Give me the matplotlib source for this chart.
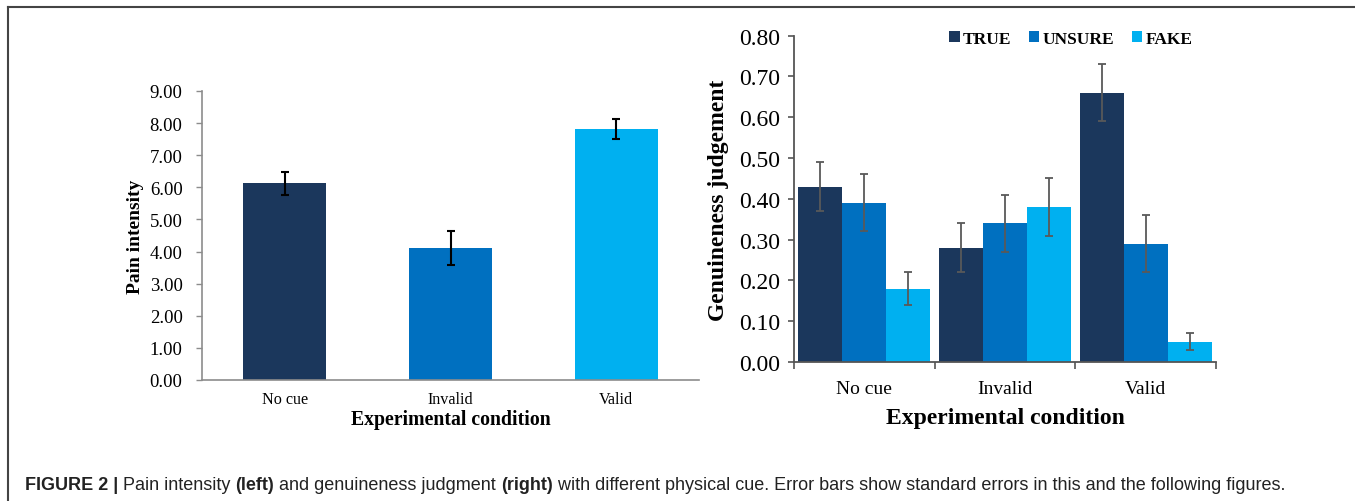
import matplotlib
matplotlib.use('Agg')
import matplotlib.pyplot as plt
from matplotlib.lines import Line2D
from matplotlib.patches import Patch
import numpy as np

conditions = ['No cue', 'Invalid', 'Valid']

# left panel: pain intensity
pain_mean = [6.12, 4.11, 7.81]
pain_se = [0.36, 0.52, 0.32]

# right panel: genuineness judgement
judgements = ['TRUE', 'UNSURE', 'FAKE']
judge_mean = {
    'TRUE': [0.43, 0.28, 0.66],
    'UNSURE': [0.39, 0.34, 0.29],
    'FAKE': [0.18, 0.38, 0.05],
}
judge_se = {
    'TRUE': [0.06, 0.06, 0.07],
    'UNSURE': [0.07, 0.07, 0.07],
    'FAKE': [0.04, 0.07, 0.02],
}

colors = ['#1b375c', '#0070c0', '#00b0f0']
serif = 'Liberation Serif'
spine_col = '#8c8c8c'

W, H = 1355, 502
fig = plt.figure(figsize=(W / 100, H / 100), dpi=100)

# ---- left panel
ax1 = fig.add_axes([202 / W, 1 - 381 / H, 497 / W, 289 / H])
x = np.arange(len(conditions))
ax1.bar(x, pain_mean, width=0.5, color=colors, zorder=2)
ax1.errorbar(x, pain_mean, yerr=pain_se, fmt='none', ecolor='black', elinewidth=1.5,
             capsize=3, capthick=1.5, zorder=3)
ax1.set_xlim(-0.5, 2.5)
ax1.set_ylim(0, 9)
yt1 = np.arange(0, 9.5, 1)
ax1.set_yticks(yt1)
ax1.set_yticklabels([f'{v:.2f}' for v in yt1], family=serif, fontsize=13.5)
ax1.set_xticks(x)
ax1.set_xticklabels(conditions, family=serif, fontsize=11.6)
ax1.tick_params(axis='x', length=0, pad=8)
ax1.tick_params(axis='y', length=4, width=1, color=spine_col, pad=10)
for s in ['top', 'right']:
    ax1.spines[s].set_visible(False)
for s in ['left', 'bottom']:
    ax1.spines[s].set_color(spine_col)
    ax1.spines[s].set_linewidth(1.2)
ax1.set_ylabel('Pain intensity', family=serif, fontsize=14, fontweight='bold', va='center')
ax1.yaxis.set_label_coords((136 - 202) / 497, 0.5)
ax1.set_xlabel('Experimental condition', family=serif, fontsize=14.2, fontweight='bold', va='center')
ax1.xaxis.set_label_coords(0.5, (381 - 420) / 289)

# ---- right panel
ax2 = fig.add_axes([794 / W, 1 - 363 / H, 422 / W, 326.3 / H])
w = 0.313
for i, j in enumerate(judgements):
    pos = x + (i - 1) * w
    ax2.bar(pos, judge_mean[j], width=w, color=colors[i], label=j, zorder=2)
    ax2.errorbar(pos, judge_mean[j], yerr=judge_se[j], fmt='none', ecolor='#595959',
                 elinewidth=1.3, capsize=3, capthick=1.3, zorder=3)
ax2.set_xlim(-0.5, 2.5)
ax2.set_ylim(0, 0.8)
yt2 = np.arange(0, 0.81, 0.1)
ax2.set_yticks(yt2)
ax2.set_yticklabels([f'{v:.2f}' for v in yt2], family=serif, fontsize=17)
ax2.set_xticks(x)
ax2.set_xticklabels(conditions, family=serif, fontsize=14)
ax2.set_xticks([-0.5, 0.5, 1.5, 2.5], minor=True)
ax2.tick_params(axis='x', which='major', length=0, pad=13)
ax2.tick_params(axis='x', which='minor', length=5, width=1.2, color='#555555')
ax2.tick_params(axis='y', length=4, width=1.2, color='#555555', pad=6)
for s in ['top', 'right']:
    ax2.spines[s].set_visible(False)
for s in ['left', 'bottom']:
    ax2.spines[s].set_color('#555555')
    ax2.spines[s].set_linewidth(1.3)
ax2.set_ylabel('Genuineness judgement', family=serif, fontsize=17, fontweight='bold', va='center')
ax2.yaxis.set_label_coords((719 - 794) / 422, 0.5)
ax2.set_xlabel('Experimental condition', family=serif, fontsize=17, fontweight='bold', va='center')
ax2.xaxis.set_label_coords(0.5, (363 - 419) / 326.3)

handles = [Patch(facecolor=c) for c in colors]
ax2.legend(handles, judgements, ncol=3, loc='center', bbox_to_anchor=(1071 / W, 1 - 40 / H),
           bbox_transform=fig.transFigure, frameon=False, handlelength=0.6, handleheight=0.6,
           handletextpad=0.2, columnspacing=1.0, prop={'family': serif, 'weight': 'bold', 'size': 12.5})

# ---- frame
fig.add_artist(Line2D([8 / W, 1], [1 - 8 / H, 1 - 8 / H], color='#444444', lw=1.5))
fig.add_artist(Line2D([8 / W, 8 / W], [0, 1 - 8 / H], color='#444444', lw=1.5))

# ---- caption with mixed weights
pieces = [
    ('FIGURE 2 | ', 'bold'),
    ('Pain intensity ', 'normal'),
    ('(left)', 'bold'),
    (' and genuineness judgment ', 'normal'),
    ('(right)', 'bold'),
    (' with different physical cue. Error bars show standard errors in this and the following figures.', 'normal'),
]
renderer = fig.canvas.get_renderer()
xpos = 25
for txt, wt in pieces:
    t = fig.text(xpos / W, 1 - 486 / H, txt, fontsize=13, fontweight=wt, color='#222222',
                 family='Liberation Sans', va='center', ha='left')
    bb = t.get_window_extent(renderer=renderer)
    xpos = bb.x1

fig.savefig('out.png', dpi=100)
